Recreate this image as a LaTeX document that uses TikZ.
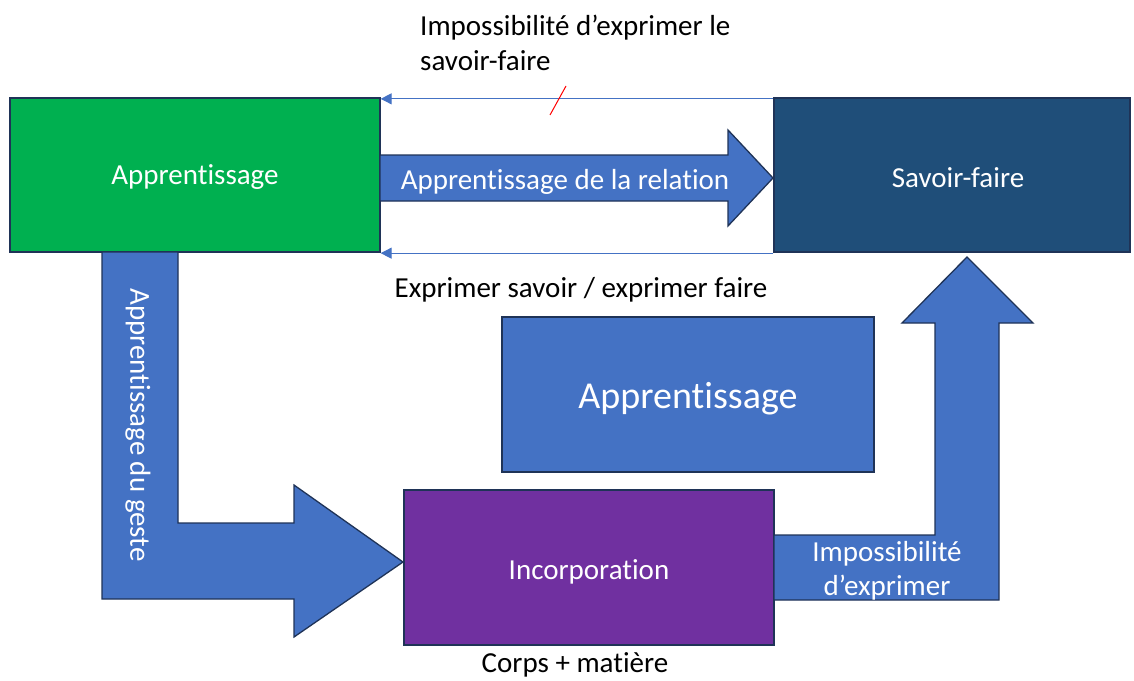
\documentclass[tikz,border=0pt]{standalone}
\usepackage{fontspec}
\setmainfont{Carlito}[Ligatures=NoCommon]
\usetikzlibrary{arrows.meta,calc}
\definecolor{cgreen}{HTML}{00B050}
\definecolor{cdark}{HTML}{1F4E79}
\definecolor{cblue}{HTML}{4472C4}
\definecolor{cpurple}{HTML}{7030A0}
\definecolor{cedge}{HTML}{1F3357}
\tikzset{
  box/.style={draw=cedge, line width=1.3pt, inner sep=0pt, text=white, font=\fontsize{29}{34}\selectfont},
  blockarrow/.style={fill=cblue, draw=cedge, line width=1.3pt, line join=miter},
  thinarrow/.style={draw=cblue, line width=1.1pt, -{Triangle[length=11pt,width=11pt]}},
  lbl/.style={font=\fontsize{29}{35}\selectfont, inner sep=0pt},
  wlbl/.style={font=\fontsize{29}{34}\selectfont, inner sep=0pt, text=white}
}
\begin{document}
\begin{tikzpicture}[x=1pt,y=-1pt]
\useasboundingbox (0,0) rectangle (1134,680);
% boxes
\node[box, fill=cgreen, minimum width=370pt, minimum height=154pt] (app) at (195,175) {};
\node[box, fill=cdark, minimum width=356pt, minimum height=154pt] (sf) at (952,175) {};
\node[box, fill=cblue, minimum width=372pt, minimum height=155pt] (app2) at (688,394.5) {};
\node[box, fill=cpurple, minimum width=370pt, minimum height=155pt] (inc) at (589,567.5) {};
% block arrows
\draw[blockarrow] (380,155) -- (728,155) -- (728,130) -- (773,178) -- (728,226) -- (728,201) -- (380,201) -- cycle;
\draw[blockarrow] (102,252) -- (178,252) -- (178,523) -- (294,523) -- (294,485) -- (403,562) -- (294,637) -- (294,599) -- (102,599) -- cycle;
\draw[blockarrow] (774,535) -- (935,535) -- (935,323) -- (902,323) -- (967,257) -- (1033,323) -- (999,323) -- (999,600) -- (774,600) -- cycle;
% thin arrows
\draw[thinarrow] ($(sf.north west)+(0,1.5)$) -- ($(app.north east)+(0,1.5)$);
\draw[thinarrow] ($(sf.south west)+(0,0.5)$) -- ($(app.south east)+(0,0.5)$);
\coordinate (slashA) at (550,115);
\coordinate (slashB) at (566,86);
\draw[red, line width=1pt] (slashA) -- (slashB);
% texts
\node[box, draw=none, fill=none] (tapp) at (195,177.5) {Apprentissage};
\node[box, draw=none, fill=none] (tsf) at (958,177.5) {Savoir-faire};
\node[wlbl] (trel) at (565,181.5) {Apprentissage de la relation};
\node[inner sep=0pt, text=white, font=\fontsize{38}{44}\selectfont] (tapp2) at (688,398.5) {Apprentissage};
\node[wlbl] (tinc) at (589,571.5) {Incorporation};
\node[lbl] (tcorps) at (575,665) {Corps + matière};
\node[lbl] (texp) at (581,290) {Exprimer savoir / exprimer faire};
\node[lbl, anchor=north west, align=left] (timp) at (420,15) {Impossibilité d’exprimer le\\savoir-faire};
\node[wlbl, rotate=-90] (tgeste) at (138,425) {Apprentissage du geste};
\node[wlbl, align=center] (timp2) at (887,571) {Impossibilité\\d’exprimer};
\end{tikzpicture}
\end{document}
